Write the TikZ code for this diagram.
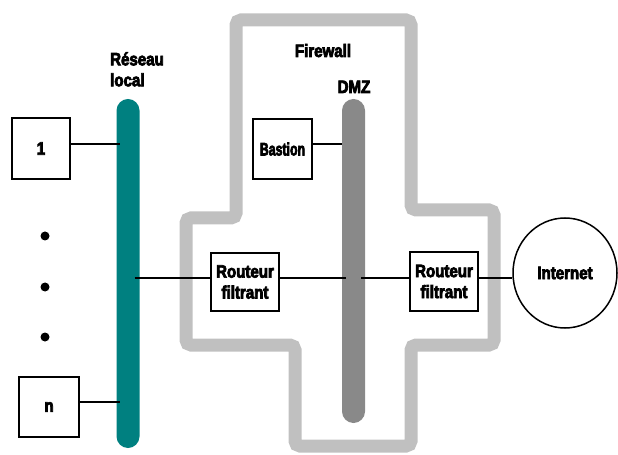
\documentclass[tikz,border=0pt]{standalone}
\usepackage{fontspec}
\setmainfont{Liberation Sans}[FakeStretch=0.84, BoldFeatures={FakeBold=4}]
\usetikzlibrary{shapes.geometric,calc}
\definecolor{lanteal}{HTML}{008080}
\definecolor{dmzgray}{HTML}{898989}
\definecolor{fwgray}{HTML}{C0C0C0}
\begin{document}
\begin{tikzpicture}[x=1bp,y=-1bp,
  lbl/.style={font=\fontsize{18}{21}\selectfont\bfseries, inner sep=0},
  box/.style={draw=black, line width=1.5bp, fill=white, inner sep=0, lbl, align=center},
  bus/.style={rounded corners=11.5bp, inner sep=0, minimum width=23bp},
  wire/.style={line width=1.5bp}]
\useasboundingbox (0,0) rectangle (618,455);
% firewall outline
\draw[fwgray, line width=13bp, rounded corners=5bp] (236,20) -- (411,20) -- (411,210) -- (494,210) -- (494,345) -- (411,345) -- (411,446) -- (295,446) -- (295,345) -- (186,345) -- (186,218) -- (236,218) -- cycle;
% buses
\node[bus, fill=lanteal, minimum height=349bp] (lan) at (128,273.5) {};
\node[bus, fill=dmzgray, minimum height=324bp] (dmz) at (353.5,261) {};
% boxes
\node[box, minimum width=58bp, minimum height=61bp] (b1) at (41,148.5) {1};
\node[box, minimum width=60bp, minimum height=60bp] (bn) at (49,407) {n};
\node[box, minimum width=59bp, minimum height=60bp] (bas) at (282.5,149) {\scalebox{0.82}[1]{Bastion}};
\node[box, minimum width=68bp, minimum height=58bp] (r1) at (245,282) {Routeur\\filtrant};
\node[box, minimum width=68bp, minimum height=59bp] (r2) at (444,281.5) {Routeur\\filtrant};
\node[ellipse, draw, line width=1.5bp, minimum width=104bp, minimum height=110bp, inner sep=0, lbl] (inet) at (565,273) {\raisebox{-3bp}{Internet}};
% dots
\foreach \y in {236,287,337} \fill (45,\y) circle (4.5bp);
% labels
\node[lbl, anchor=north west, align=left] (lanlbl) at (110,52) {Réseau\\local};
\node[lbl, anchor=base] (fwlbl) at (323,57) {Firewall};
\node[lbl, anchor=base] (dmzlbl) at (354,93) {DMZ};
% wires
\coordinate (lvl) at (0,278);
\coordinate (p1) at ([yshift=4.5bp]b1.east);
\coordinate (pn) at ([yshift=5bp]bn.east);
\coordinate (pb) at ([yshift=5bp]bas.east);
\draw[wire] (p1) -- ($(p1 -| lan.west)+(4,0)$);
\draw[wire] (pn) -- ($(pn -| lan.west)+(4,0)$);
\draw[wire] (pb) -- (pb -| dmz.west);
\draw[wire] ($(lan.east |- lvl)+(-5,0)$) -- (r1.west |- lvl);
\draw[wire] (r1.east |- lvl) -- ($(dmz.west |- lvl)+(4,0)$);
\draw[wire] ($(dmz.east |- lvl)+(-4,0)$) -- (r2.west |- lvl);
\draw[wire] (r2.east |- lvl) -- (inet.west |- lvl);
\end{tikzpicture}
\end{document}
